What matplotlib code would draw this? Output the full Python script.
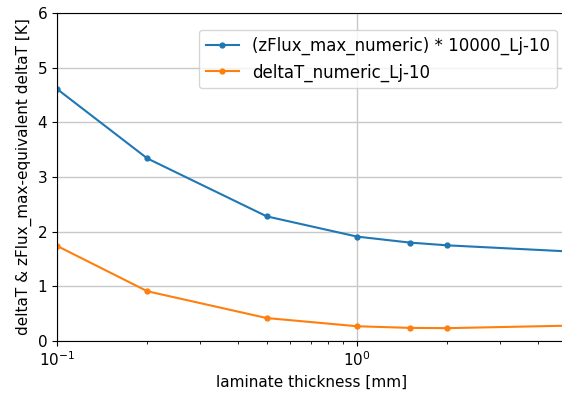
import matplotlib
matplotlib.use("Agg")
import matplotlib.pyplot as plt

thickness = [0.1, 0.2, 0.5, 1.0, 1.5, 2.0, 5.0]
zflux_equiv = [4.61, 3.34, 2.28, 1.91, 1.80, 1.75, 1.64]
delta_t = [1.74, 0.91, 0.42, 0.27, 0.24, 0.235, 0.28]

plt.rcParams["font.size"] = 11

fig = plt.figure(figsize=(5.62, 3.94), dpi=100)
# axes runs slightly past the right edge of the figure (cropped like the original)
ax = fig.add_axes([57 / 562, 1 - 341 / 394, (566.7 - 57) / 562, (341 - 13) / 394])
ax.plot(thickness, zflux_equiv, "o-", color="#1f77b4", ms=3.5, lw=1.5,
        label="(zFlux_max_numeric) * 10000_Lj-10")
ax.plot(thickness, delta_t, "o-", color="#ff7f0e", ms=3.5, lw=1.5,
        label="deltaT_numeric_Lj-10")
ax.set_xscale("log")
ax.set_xlim(0.1, 5)
ax.set_ylim(0, 6)
ax.grid(True, color="#c8c8c8", lw=1)
ax.set_axisbelow(True)
ax.set_xlabel("laminate thickness [mm]")
ax.set_ylabel("deltaT & zFlux_max-equivalent deltaT [K]")
ax.legend(loc="upper right", bbox_to_anchor=(557 / 562, 1 - 30 / 394),
          bbox_transform=fig.transFigure, borderaxespad=0, fontsize=12)
fig.savefig("out.png", dpi=100)
